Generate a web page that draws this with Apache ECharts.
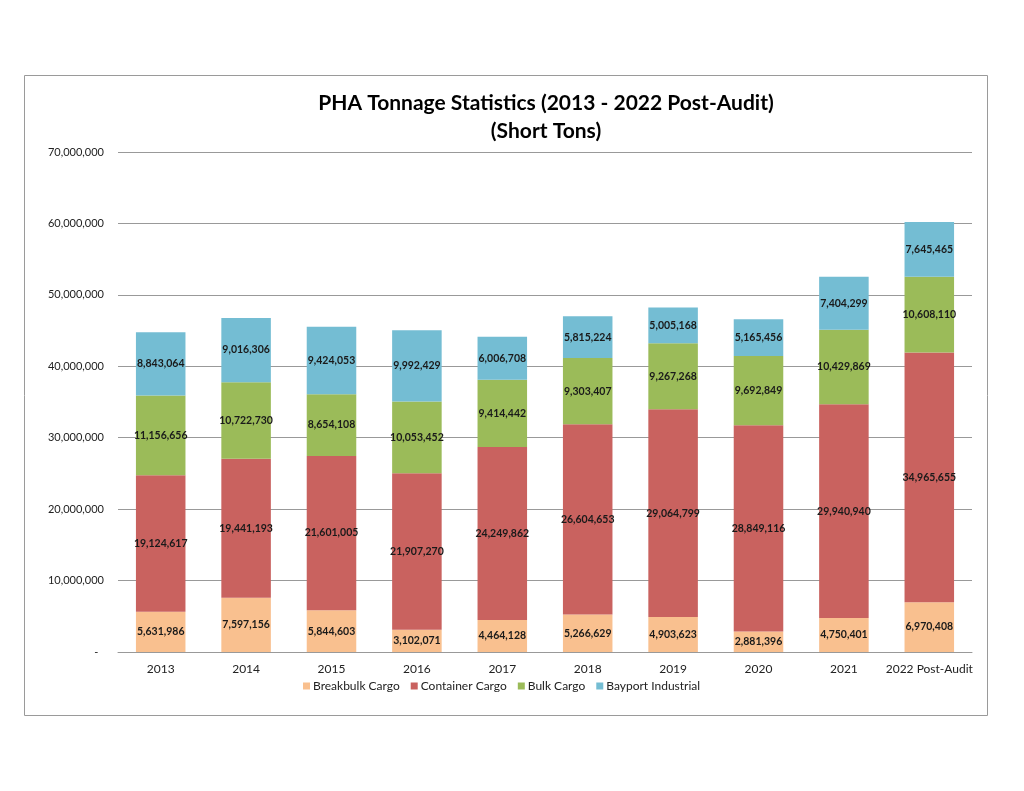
<!DOCTYPE html>
<html>
<head>
<meta charset="utf-8">
<script src="https://cdn.jsdelivr.net/npm/echarts@6/dist/echarts.min.js"></script>
<style>
  html, body { margin: 0; padding: 0; background: #fff; }
  #main { width: 1024px; height: 791px; }
</style>
</head>
<body>
<div id="main"></div>
<script>
var years = ['2013', '2014', '2015', '2016', '2017', '2018', '2019', '2020', '2021', '2022 Post-Audit'];
var breakbulk = [5631986, 7597156, 5844603, 3102071, 4464128, 5266629, 4903623, 2881396, 4750401, 6970408];
var container = [19124617, 19441193, 21601005, 21907270, 24249862, 26604653, 29064799, 28849116, 29940940, 34965655];
var bulk = [11156656, 10722730, 8654108, 10053452, 9414442, 9303407, 9267268, 9692849, 10429869, 10608110];
var bayport = [8843064, 9016306, 9424053, 9992429, 6006708, 5815224, 5005168, 5165456, 7404299, 7645465];

var font = 'Lato, "Open Sans", sans-serif';

function fmt(v) {
    return v.toString().replace(/\B(?=(\d{3})+(?!\d))/g, ',');
}

function makeSeries(name, data, color) {
    return {
        name: name,
        type: 'bar',
        stack: 'total',
        data: data,
        barWidth: '58%',
        itemStyle: { color: color },
        label: {
            show: true,
            position: 'inside',
            color: '#1a1a1a',
            fontFamily: font,
            fontWeight: 'bold',
            fontSize: 10.5,
            formatter: function (p) { return fmt(p.value); }
        }
    };
}

var myChart = echarts.init(document.getElementById('main'));
var option = {
    animation: false,
    backgroundColor: '#fff',
    title: {
        text: 'PHA Tonnage Statistics (2013 - 2022 Post-Audit)\n(Short Tons)',
        left: 541,
        top: 84,
        textAlign: 'center',
        textStyle: {
            fontFamily: font,
            fontSize: 21,
            fontWeight: 'bold',
            color: '#000',
            lineHeight: 28
        }
    },
    graphic: [{
        type: 'rect',
        shape: { x: 24.5, y: 75.5, width: 963, height: 640 },
        style: { fill: 'none', stroke: '#9a9a9a', lineWidth: 1 },
        silent: true
    }],
    legend: {
        bottom: 94,
        left: 298,
        itemWidth: 7,
        itemHeight: 7,
        itemGap: 11,
        icon: 'rect',
        textStyle: { fontFamily: font, fontSize: 12, color: '#222', padding: [0, 0, 0, -2] },
        data: ['Breakbulk Cargo', 'Container Cargo', 'Bulk Cargo', 'Bayport Industrial']
    },
    grid: { left: 118, right: 52, top: 152, bottom: 139, containLabel: false },
    xAxis: {
        type: 'category',
        data: years,
        axisLine: { show: true, lineStyle: { color: '#999' } },
        axisTick: { show: false },
        axisLabel: { interval: 0, fontFamily: font, fontSize: 12, color: '#222', margin: 11 }
    },
    yAxis: {
        type: 'value',
        min: 0,
        max: 70000000,
        interval: 10000000,
        axisLine: { show: false },
        axisTick: { show: false },
        splitLine: { lineStyle: { color: '#999', width: 1 } },
        axisLabel: {
            fontFamily: font,
            fontSize: 11,
            color: '#222',
            margin: 14,
            formatter: function (v) { return v === 0 ? '-  ' : fmt(v); }
        }
    },
    series: [
        makeSeries('Breakbulk Cargo', breakbulk, '#F9C08F'),
        makeSeries('Container Cargo', container, '#C9625F'),
        makeSeries('Bulk Cargo', bulk, '#9BBB59'),
        makeSeries('Bayport Industrial', bayport, '#74BDD3')
    ]
};
myChart.setOption(option);
</script>
</body>
</html>
